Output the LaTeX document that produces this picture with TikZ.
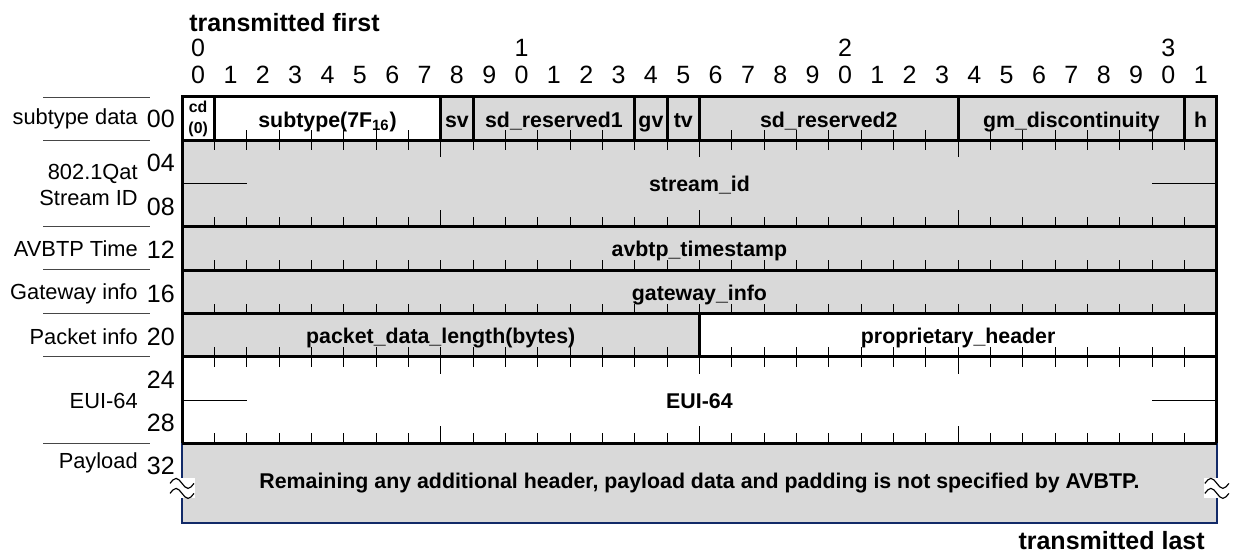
\documentclass[tikz,border=0pt]{standalone}
\usepackage{fontspec}
\setmainfont{Liberation Sans}
\usetikzlibrary{positioning}
\definecolor{FieldGray}{RGB}{217,217,217}
\definecolor{PayNavy}{RGB}{18,42,104}
\definecolor{SepGray}{RGB}{70,70,70}
\newcommand{\lblfont}{\fontsize{13.1}{15.5}\selectfont}
\newcommand{\numfont}{\fontsize{15}{17}\selectfont}
\newcommand{\fieldfont}{\fontsize{12.8}{14}\selectfont\bfseries}
\newcommand{\cdfont}{\fontsize{9.5}{12.6}\selectfont\bfseries}
\newcommand{\titlefont}{\fontsize{15}{17}\selectfont\bfseries}
\newcommand{\payfont}{\fontsize{12.8}{14}\selectfont\bfseries}
\def\bitw{19.404pt}
\def\rowh{25.98pt}
\tikzset{
  box/.style={draw,line width=1.8pt,inner sep=0pt,outer sep=0pt,
              minimum height=\rowh},
  field/.style={box,font=\fieldfont,text height=2.1ex,text depth=0.2ex},
  grayf/.style={field,fill=FieldGray},
  whitef/.style={field,fill=white},
  bittick/.style={line width=0.6pt},
  rowlbl/.style={anchor=east,font=\lblfont,inner sep=0pt,align=right},
  rownum/.style={anchor=east,font=\numfont,inner sep=0pt},
  bitnum/.style={font=\numfont,inner sep=0pt},
  sepline/.style={line width=0.6pt,SepGray},
  brk/.pic={
    \fill[white] (-13,-10) rectangle (13,10);
    \foreach \dy in {-5,5}
      \draw[line width=0.7pt] (-12,\dy) sin (-6,\dy-5) cos (0,\dy)
        sin (6,\dy+5) cos (12,\dy);
  },
}
\begin{document}
\begin{tikzpicture}[x=0.6pt,y=-0.6pt]
  \useasboundingbox (0,0) rectangle (1233,554);
  % header
  \node[font=\titlefont,anchor=west,inner sep=0pt] (tfirst) at (189,23) {transmitted first};
  \foreach \k in {0,...,31} {
    \pgfmathtruncatemacro\u{mod(\k,10)}
    \node[bitnum] (b\k) at ({182+(\k+0.5)*32.34},75) {\u};
  }
  \foreach \k/\t in {0/0,10/1,20/2,30/3}
    \node[bitnum] (t\k) at ({182+(\k+0.5)*32.34},48) {\t};

  % word 00
  \node[box,fill=white,anchor=north west,minimum width=\bitw,font=\cdfont,align=center]
    (cd) at (182,97) {cd\\(0)};
  \node[whitef,minimum width=7*\bitw,right=0pt of cd] (subtype) {subtype(7F\textsubscript{16})};
  \node[grayf,minimum width=\bitw,right=0pt of subtype] (sv) {sv};
  \node[grayf,minimum width=5*\bitw,right=0pt of sv] (sdres1) {sd\_reserved1};
  \node[grayf,minimum width=\bitw,right=0pt of sdres1] (gv) {gv};
  \node[grayf,minimum width=\bitw,right=0pt of gv] (tv) {tv};
  \node[grayf,minimum width=8*\bitw,right=0pt of tv] (sdres2) {sd\_reserved2};
  \node[grayf,minimum width=7*\bitw,right=0pt of sdres2] (gmdisc) {gm\_discontinuity};
  \node[grayf,minimum width=\bitw,right=0pt of gmdisc] (hbit) {h};

  % words 04 .. 28
  \node[grayf,anchor=north west,minimum width=32*\bitw,minimum height=2*\rowh]
    (stream) at (cd.south west) {stream\_id};
  \node[grayf,anchor=north west,minimum width=32*\bitw] (avbtp) at (stream.south west) {avbtp\_timestamp};
  \node[grayf,anchor=north west,minimum width=32*\bitw] (gateway) at (avbtp.south west) {gateway\_info};
  \node[grayf,anchor=north west,minimum width=16*\bitw] (pktlen) at (gateway.south west) {packet\_data\_length(bytes)};
  \node[whitef,minimum width=16*\bitw,right=0pt of pktlen] (prop) {proprietary\_header};
  \node[whitef,anchor=north west,minimum width=32*\bitw,minimum height=2*\rowh]
    (eui) at (pktlen.south west) {EUI-64};

  % payload
  \node[fill=FieldGray,anchor=north west,inner sep=0pt,outer sep=0pt,
        minimum width=32*\bitw,minimum height=48pt,font=\payfont]
    (pay) at (eui.south west) {Remaining any additional header, payload data and padding is not specified by AVBTP.};
  \draw[PayNavy,line width=1.2pt] (pay.north west) -- (pay.south west) -- (pay.south east) -- (pay.north east);
  \draw[line width=1.8pt] (eui.south west) -- (eui.south east);
  \pic at ([yshift=-3pt]pay.west) {brk};
  \pic at ([yshift=-3pt]pay.east) {brk};

  % bit ticks
  \foreach \yb in {140.3,270.2,313.5,356.8}
    \foreach \k in {1,...,31}
      \draw[bittick] ({182+\k*32.34},\yb) -- ++(0,-10);
  \foreach \yb/\dir in {140.3/1,226.9/-1,356.8/1,443.4/-1}
    \foreach \k in {1,...,31} {
      \pgfmathsetmacro\len{mod(\k,8)==0 ? 17 : 10}
      \draw[bittick] ({182+\k*32.34},\yb) -- ++(0,\dir*\len);
    }
  \foreach \n in {stream,eui} {
    \draw[bittick] (\n.west) -- ++(64.7,0);
    \draw[bittick] (\n.east) -- ++(-64.7,0);
  }

  % word offsets and labels
  \node[rownum] (n00) at (175,119) {00};
  \node[rownum] (n04) at (175,163) {04};
  \node[rownum] (n08) at (175,207) {08};
  \node[rownum] (n12) at (175,250) {12};
  \node[rownum] (n16) at (175,294) {16};
  \node[rownum] (n20) at (175,337) {20};
  \node[rownum] (n24) at (175,380) {24};
  \node[rownum] (n28) at (175,423) {28};
  \node[rownum] (n32) at (175,466) {32};
  \node[rowlbl] (lsub) at (138,119) {subtype data};
  \node[rowlbl] (lstream) at (138,185) {802.1Qat\\Stream ID};
  \node[rowlbl] (ltime) at (138,249) {AVBTP Time};
  \node[rowlbl] (lgate) at (138,294) {Gateway info};
  \node[rowlbl] (lpkt) at (138,337) {Packet info};
  \node[rowlbl] (leui) at (138,401) {EUI-64};
  \node[rowlbl] (lpay) at (138,463) {Payload};
  \foreach \yy in {97.5,140.3,226.9,269.5,313.5,356.8,443.4}
    \draw[sepline] (43,\yy) -- (150,\yy);

  \node[font=\titlefont,anchor=east,inner sep=0pt] (tlast) at (1205,541) {transmitted last};
\end{tikzpicture}
\end{document}
